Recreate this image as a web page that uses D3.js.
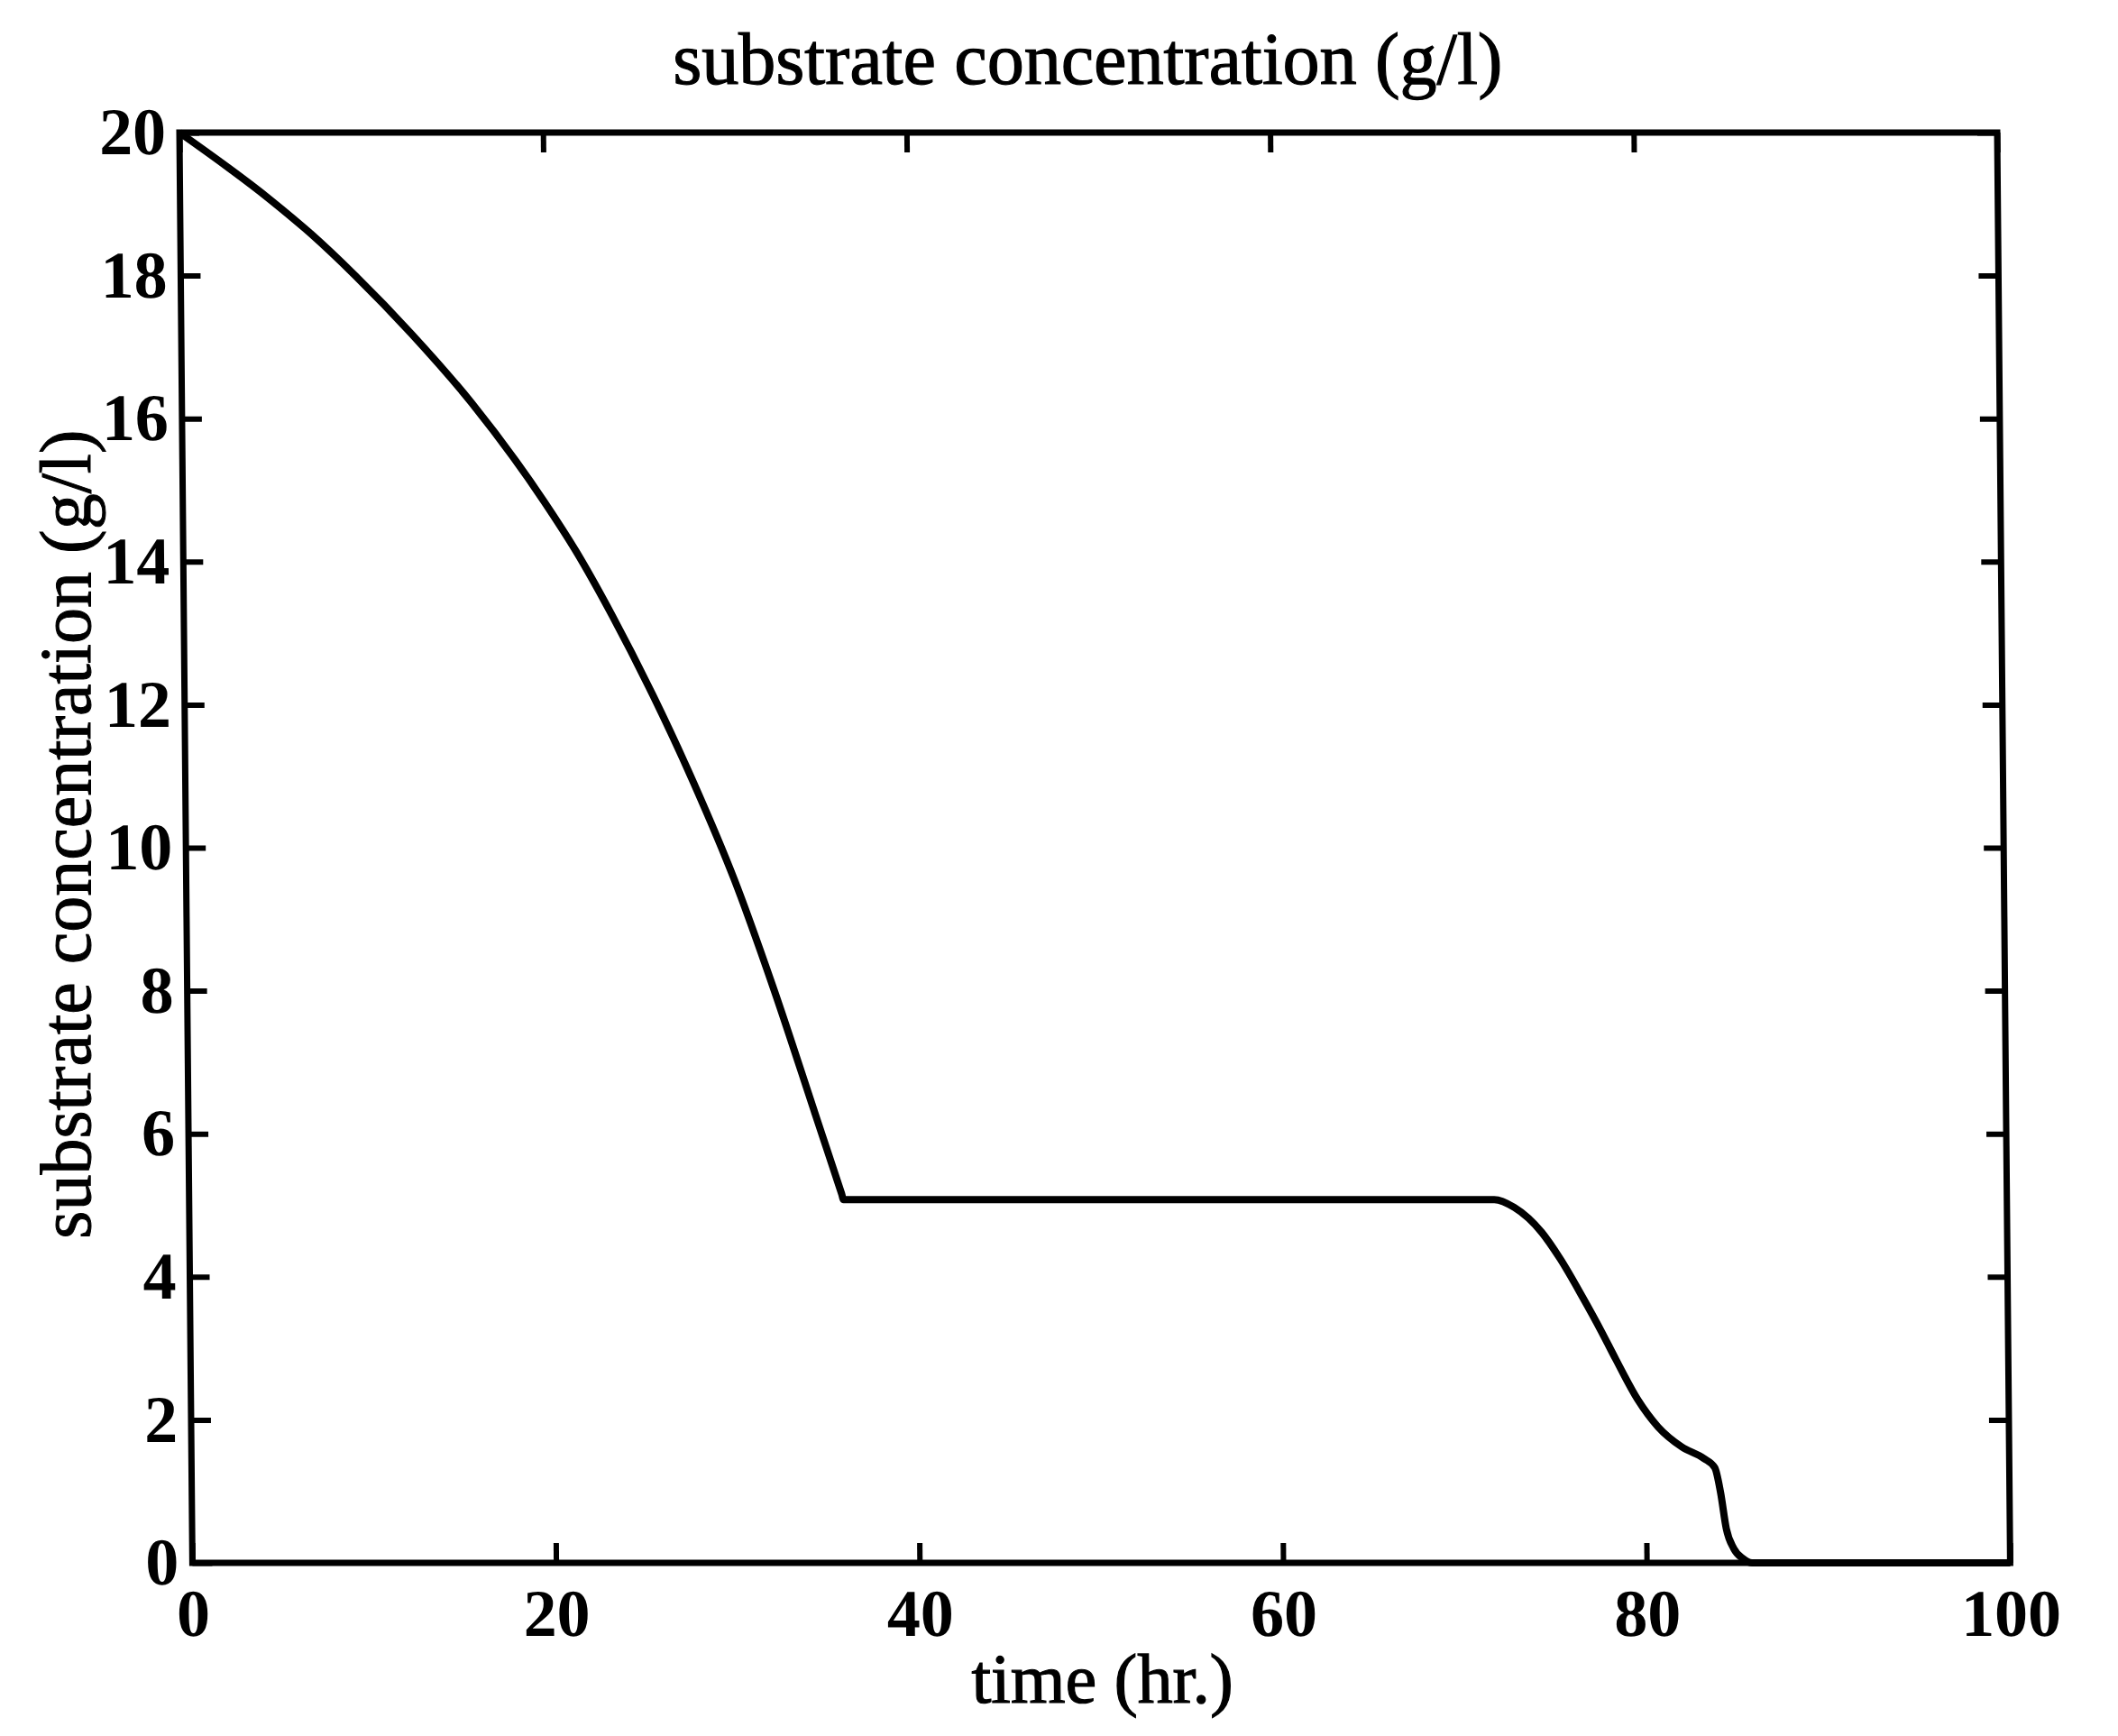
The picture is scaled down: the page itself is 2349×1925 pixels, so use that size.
<!DOCTYPE html>
<html>
<head>
<meta charset="utf-8">
<script src="https://cdn.jsdelivr.net/npm/d3@7"></script>
<style>
  body { margin: 0; background: #fff; }
  svg { display: block; }
  text { font-family: "Liberation Serif", "Times New Roman", serif; fill: #000; }
</style>
</head>
<body>
<svg id="chart"></svg>
<script>
const timeHr = [0, 4.97, 7.16, 9.6, 12.65, 15.94, 19.88, 21.6, 23.6, 25.77, 27.96, 30.16, 32.3, 34.47, 35.9, 36.0,
    50, 60, 71.8, 72.9, 74.4, 75.4, 76.6, 77.6, 78.4, 79.6, 80.7, 82.0, 83.2, 83.8, 84.1, 84.4, 84.8, 85.3, 85.8, 100];
const substrate = [20, 19.06, 18.59, 18.0, 17.19, 16.22, 14.84, 14.15, 13.23, 12.13, 10.91, 9.55, 8.0, 6.29, 5.16, 5.08,
    5.08, 5.08, 5.08, 4.97, 4.62, 4.25, 3.72, 3.25, 2.85, 2.28, 1.9, 1.62, 1.46, 1.33, 0.99, 0.48, 0.2, 0.06, 0, 0];
const xTicks = [0, 20, 40, 60, 80, 100];
const yTicks = [0, 2, 4, 6, 8, 10, 12, 14, 16, 18, 20];

const titleText = "substrate concentration (g/l)";
const xLabel = "time (hr.)";
const yLabel = "substrate concentration (g/l)";

const margin = {top: 147, left: 199},
    width = 2016,
    height = 1586,
    tickLen = 22;

const svg = d3.select("#chart")
    .attr("width", 2349)
    .attr("height", 1925);

// the scan is a little sheared, so the whole plot leans slightly
const g = svg.append("g")
    .attr("transform", "translate(" + margin.left + "," + margin.top + ") skewX(0.52)");

const x = d3.scaleLinear().domain([0, 100]).range([0, width]);
const y = d3.scaleLinear().domain([0, 20]).range([height, 0]);

function styleAxis(sel) {
    sel.select(".domain").remove();
    sel.selectAll("line").attr("stroke", "#000").attr("stroke-width", 6);
}

// bottom / left with labels, ticks pointing inward
g.append("g")
    .attr("transform", "translate(0," + height + ")")
    .call(d3.axisBottom(x).tickValues(xTicks).tickFormat(d3.format("d"))
        .tickSizeInner(-tickLen).tickSizeOuter(0).tickPadding(28))
    .call(styleAxis)
    .selectAll("text")
    .attr("font-size", 74)
    .attr("font-weight", "bold")
    .attr("font-family", "Liberation Serif");

g.append("g")
    .call(d3.axisLeft(y).tickValues(yTicks).tickFormat(d3.format("d"))
        .tickSizeInner(-tickLen).tickSizeOuter(0).tickPadding(15))
    .call(styleAxis)
    .selectAll("text")
    .attr("font-size", 74)
    .attr("font-weight", "bold")
    .attr("font-family", "Liberation Serif");

// top / right, ticks only
g.append("g")
    .call(d3.axisTop(x).tickValues(xTicks).tickFormat("")
        .tickSizeInner(-tickLen).tickSizeOuter(0))
    .call(styleAxis);

g.append("g")
    .attr("transform", "translate(" + width + ",0)")
    .call(d3.axisRight(y).tickValues(yTicks).tickFormat("")
        .tickSizeInner(-tickLen).tickSizeOuter(0))
    .call(styleAxis);

// frame
g.append("rect")
    .attr("x", 0)
    .attr("y", 0)
    .attr("width", width)
    .attr("height", height)
    .attr("fill", "none")
    .attr("stroke", "#000")
    .attr("stroke-width", 7);

// curve
const line = d3.line()
    .x((d, i) => x(timeHr[i]))
    .y(d => y(d))
    .curve(d3.curveMonotoneX);

g.append("path")
    .datum(substrate)
    .attr("d", line)
    .attr("fill", "none")
    .attr("stroke", "#000")
    .attr("stroke-width", 8)
    .attr("stroke-linejoin", "round");

// titles
g.append("text")
    .attr("x", width / 2)
    .attr("y", -54)
    .attr("text-anchor", "middle")
    .attr("font-size", 82)
    .attr("stroke", "#000")
    .attr("stroke-width", 1.2)
    .text(titleText);

g.append("text")
    .attr("x", width / 2)
    .attr("y", height + 155)
    .attr("text-anchor", "middle")
    .attr("font-size", 78)
    .attr("stroke", "#000")
    .attr("stroke-width", 1.2)
    .text(xLabel);

svg.append("text")
    .attr("transform", "translate(100,925) rotate(-90)")
    .attr("text-anchor", "middle")
    .attr("font-size", 80)
    .attr("stroke", "#000")
    .attr("stroke-width", 1)
    .text(yLabel);
</script>
</body>
</html>
